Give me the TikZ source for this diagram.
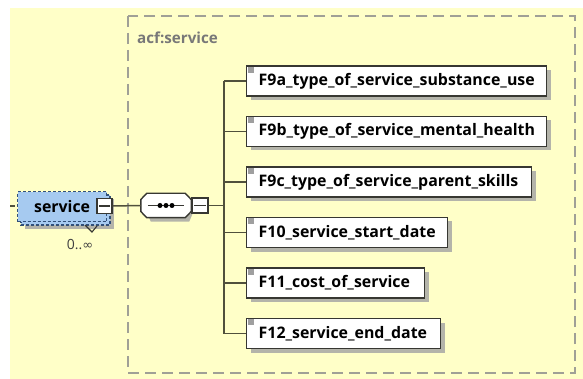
\documentclass[tikz,border=0pt]{standalone}
\usepackage{fontspec}
\setmainfont{Open Sans}
\newfontfamily\symf{DejaVu Sans}
\usetikzlibrary{shadows,calc}
\definecolor{bgyellow}{RGB}{255,255,200}
\definecolor{dashgray}{RGB}{160,160,150}
\definecolor{boxline}{RGB}{55,55,50}
\definecolor{connline}{RGB}{80,80,60}
\definecolor{svcblue}{RGB}{166,202,240}
\definecolor{svcdash}{RGB}{50,80,120}
\definecolor{shadowgray}{RGB}{180,180,170}
\definecolor{lblgray}{RGB}{120,120,120}
\tikzset{
  elemfont/.style={font=\fontsize{15.9}{18}\selectfont\bfseries},
  elem/.style={draw=boxline, line width=1.4pt, fill=white, anchor=west,
    minimum height=30pt, inner ysep=0pt, inner xsep=12pt, align=left,
    elemfont, text=black,
    general shadow={fill=shadowgray, shadow xshift=4pt, shadow yshift=-4pt}},
  minusbox/.style={draw=boxline, line width=1.2pt, fill=white, minimum width=16pt,
    minimum height=15pt, inner sep=0pt},
  conn/.style={draw=connline, line width=1.5pt},
  outerbox/.style={draw=dashgray, line width=1.5pt, dash pattern=on 11pt off 6pt},
  svcrect/.style={draw=svcdash, line width=1.3pt, fill=svcblue, dash pattern=on 3pt off 2pt},
}
\begin{document}
\begin{tikzpicture}[x=1pt,y=-1pt]
\useasboundingbox (0,0) rectangle (583,379);
\fill[white] (0,0) rectangle (583,379);
\fill[bgyellow] (10,8) rectangle (583,379);
\draw[outerbox] (128,16) rectangle (575,373);
\node[anchor=west, inner sep=0pt, font=\fontsize{15.2}{18}\selectfont\bfseries, text=lblgray] (lbl) at (137,38) {acf:service};

% element boxes
\node[elem, text width=276pt] (e1) at (246,81)   {F9a\_type\_of\_service\_substance\_use};
\node[elem, text width=276pt] (e2) at (246,131.5){F9b\_type\_of\_service\_mental\_health};
\node[elem, text width=261pt] (e3) at (246,182)  {F9c\_type\_of\_service\_parent\_skills};
\node[elem, text width=177pt] (e4) at (246,232.5){F10\_service\_start\_date};
\node[elem, text width=154pt] (e5) at (246,283)  {F11\_cost\_of\_service};
\node[elem, text width=170pt] (e6) at (246,333.5){F12\_service\_end\_date};
\foreach \n in {e1,e2,e3,e4,e5,e6}
  \fill[gray!75] ($(\n.north west)+(1.5,1.5)$) rectangle +(6,6);

% trunk and branches
\coordinate (tr) at (224,0);
\draw[conn] (e1.west -| tr) -- (e6.west -| tr);
\foreach \n in {e1,e2,e3,e4,e5,e6}
  \draw[conn] (\n.west -| tr) -- (\n.west);

% service element (repeated: stacked boxes)
\fill[shadowgray] (25,199) rectangle (114,229);
\draw[svcrect] (21,195) rectangle (110,225);
\node[svcrect, anchor=north west, minimum width=89pt, minimum height=30pt, inner sep=0pt,
  elemfont, text=black] (svc) at (17,191) {service\hspace{12pt}};
\node[minusbox, minimum width=15pt] (sm) at (104.5,206) {};
\draw[boxline, line width=1.2pt] ($(sm.west)+(3,0)$) -- ($(sm.east)+(-3,0)$);
\draw[boxline, line width=1.1pt] (85,225) -- (92,232) -- (97,226);
\node[inner sep=0pt, font=\fontsize{14}{16}\selectfont, text=black!75] (card) at (80,245) {0..{\symf\fontsize{13}{15}\selectfont ∞}};
\coordinate (lead) at (10,206);
\draw[conn] (lead) -- ++(5,0);

% sequence compositor (octagon)
\node[minimum width=50pt, minimum height=24pt, inner sep=0pt] (seq) at (166,205.5) {};
\fill[shadowgray] ($(seq.north west)+(10,4)$) -- ($(seq.north east)+(-2,4)$) -- ($(seq.east)+(4,-2)$)
  -- ($(seq.east)+(4,2)$) -- ($(seq.south east)+(-2,4)$) -- ($(seq.south west)+(10,4)$)
  -- ($(seq.west)+(4,2)$) -- ($(seq.west)+(4,-2)$) -- cycle;
\draw[boxline, line width=1.4pt, fill=white]
  ($(seq.north west)+(6,0)$) -- ($(seq.north east)+(-6,0)$) -- ($(seq.east)+(0,-6)$)
  -- ($(seq.east)+(0,6)$) -- ($(seq.south east)+(-6,0)$) -- ($(seq.south west)+(6,0)$)
  -- ($(seq.west)+(0,6)$) -- ($(seq.west)+(0,-6)$) -- cycle;
\draw[boxline, line width=1.3pt] ($(seq.west)+(7,0)$) -- ($(seq.east)+(-7,0)$);
\foreach \dx in {-6,0,6} \fill[black] ($(seq.center)+(\dx,0)$) circle (2.5);
\node[minusbox] (qm) at (200,205.5) {};
\draw[boxline, line width=1.2pt] ($(qm.west)+(3,0)$) -- ($(qm.east)+(-3,0)$);

\draw[conn] (sm.east) -- (seq.west);
\draw[conn] (qm.east) -- (qm.east -| tr);
\end{tikzpicture}
\end{document}
